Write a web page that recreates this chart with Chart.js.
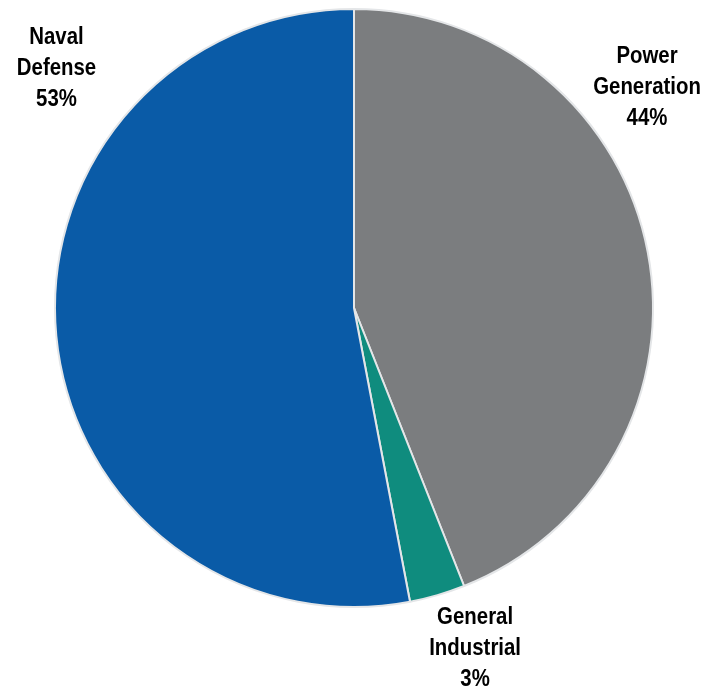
<!DOCTYPE html>
<html>
<head>
<meta charset="utf-8">
<script src="https://cdn.jsdelivr.net/npm/chart.js@4"></script>
<style>
  body { margin: 0; background: #fff; }
  #wrap { width: 710px; height: 691px; position: relative; }
</style>
</head>
<body>
<div id="wrap"><canvas id="myChart"></canvas></div>
<script>
// data
const labels = ['Power Generation', 'General Industrial', 'Naval Defense'];
const shares = [44, 3, 53];
const colors = ['#7b7d7f', '#0f8c7e', '#0a5ba7'];
// label text lines, one list per slice
const labelLines = [
  ['Power', 'Generation', '44%'],
  ['General', 'Industrial', '3%'],
  ['Naval', 'Defense', '53%']
];
// where each label sits, as multiples of the radius from the pie centre
const labelPos = [
  { dx: 0.98, dy: -0.84 },
  { dx: 0.405, dy: 1.035 },
  { dx: -0.995, dy: -0.905 }
];

const outsideLabels = {
  id: 'outsideLabels',
  afterDraw(chart) {
    const ctx = chart.ctx;
    const arc = chart.getDatasetMeta(0).data[0];
    const cx = arc.x, cy = arc.y, r = arc.outerRadius;
    const squeeze = 0.85; // reference font is a condensed bold
    ctx.save();
    ctx.fillStyle = '#000';
    ctx.font = 'bold 24px "Liberation Sans", Arial, sans-serif';
    ctx.textAlign = 'center';
    ctx.textBaseline = 'middle';
    labelLines.forEach((lines, i) => {
      const x = cx + labelPos[i].dx * r;
      const y = cy + labelPos[i].dy * r;
      lines.forEach((t, j) => {
        ctx.save();
        ctx.translate(x, y + j * 31);
        ctx.scale(squeeze, 1);
        ctx.fillText(t, 0, 0);
        ctx.restore();
      });
    });
    ctx.restore();
  }
};

const config = {
  type: 'pie',
  data: {
    labels: labels,
    datasets: [{
      data: shares,
      backgroundColor: colors,
      borderColor: '#e4e6e8',
      borderWidth: 2
    }]
  },
  options: {
    responsive: true,
    maintainAspectRatio: false,
    animation: false,
    layout: { padding: { top: 8, bottom: 83, left: 54, right: 56 } },
    plugins: {
      legend: { display: false },
      tooltip: { enabled: false }
    }
  },
  plugins: [outsideLabels]
};

new Chart(document.getElementById('myChart'), config);
</script>
</body>
</html>
